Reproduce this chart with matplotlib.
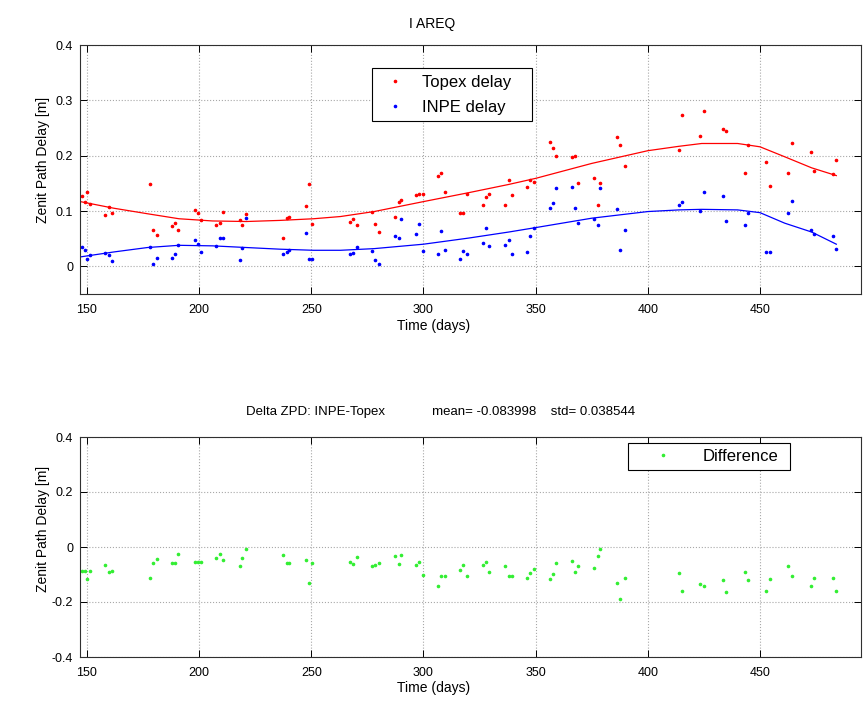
import matplotlib
matplotlib.use("Agg")
import matplotlib.pyplot as plt
import numpy as np

plt.rcParams['font.family'] = ['Liberation Sans', 'DejaVu Sans']

# ---- data ----
days = [148, 149, 150, 151.5, 158, 159.7, 161, 178, 179.5, 181.2, 188, 189.4, 190.6,
        198, 199.5, 201, 207.7, 209.2, 210.7, 218, 219.2, 220.7, 237.5, 239, 240.2,
        247.5, 249, 250.5, 267.4, 268.5, 270.2, 277, 278.5, 280, 287.1, 288.9, 289.9,
        296.7, 298.2, 299.7, 306.5, 308, 309.6, 316.3, 317.8, 319.6, 326.4, 327.9, 329.4,
        336.4, 338, 339.5, 346, 347.5, 349.3, 356.4, 357.6, 358.9, 366, 367.5, 369,
        376, 377.6, 378.8, 386.3, 387.8, 389.6, 413.8, 415.3, 423.4, 424.9, 433.4, 434.9,
        443.2, 444.7, 452.8, 454.4, 462.6, 464.3, 472.6, 473.9, 482.5, 484]

topex = [0.127, 0.117, 0.134, 0.113, 0.092, 0.108, 0.096, 0.149, 0.065, 0.057, 0.073, 0.078, 0.066,
         0.101, 0.096, 0.083, 0.075, 0.079, 0.099, 0.083, 0.074, 0.095, 0.052, 0.087, 0.089,
         0.109, 0.148, 0.077, 0.080, 0.086, 0.074, 0.099, 0.077, 0.062, 0.090, 0.117, 0.119,
         0.129, 0.131, 0.131, 0.164, 0.169, 0.135, 0.096, 0.096, 0.131, 0.110, 0.125, 0.131,
         0.110, 0.156, 0.129, 0.143, 0.156, 0.153, 0.224, 0.214, 0.199, 0.197, 0.200, 0.150,
         0.160, 0.111, 0.150, 0.233, 0.220, 0.181, 0.210, 0.274, 0.235, 0.281, 0.248, 0.245,
         0.169, 0.219, 0.188, 0.145, 0.169, 0.223, 0.206, 0.172, 0.166, 0.192]

inpe = [0.035, 0.030, 0.013, 0.020, 0.024, 0.020, 0.010, 0.035, 0.005, 0.015, 0.015, 0.022, 0.039,
        0.047, 0.040, 0.026, 0.036, 0.051, 0.052, 0.012, 0.034, 0.088, 0.022, 0.026, 0.029,
        0.061, 0.014, 0.014, 0.023, 0.024, 0.035, 0.028, 0.012, 0.004, 0.055, 0.051, 0.086,
        0.058, 0.076, 0.028, 0.022, 0.063, 0.029, 0.013, 0.028, 0.022, 0.043, 0.069, 0.037,
        0.039, 0.048, 0.022, 0.026, 0.055, 0.070, 0.105, 0.114, 0.141, 0.143, 0.105, 0.078,
        0.085, 0.075, 0.142, 0.104, 0.029, 0.066, 0.110, 0.117, 0.100, 0.135, 0.128, 0.082,
        0.075, 0.097, 0.025, 0.025, 0.096, 0.118, 0.066, 0.058, 0.054, 0.031]

difference = [-0.088, -0.088, -0.117, -0.088, -0.065, -0.090, -0.086, -0.112, -0.059, -0.044, -0.059, -0.057, -0.026,
              -0.055, -0.055, -0.055, -0.039, -0.026, -0.047, -0.069, -0.041, -0.007, -0.028, -0.059, -0.059,
              -0.047, -0.132, -0.059, -0.055, -0.062, -0.036, -0.070, -0.065, -0.059, -0.034, -0.062, -0.029,
              -0.067, -0.055, -0.100, -0.140, -0.107, -0.107, -0.083, -0.067, -0.107, -0.065, -0.055, -0.091,
              -0.069, -0.107, -0.107, -0.114, -0.096, -0.080, -0.117, -0.098, -0.057, -0.052, -0.091, -0.069,
              -0.078, -0.034, -0.007, -0.130, -0.189, -0.114, -0.096, -0.159, -0.135, -0.143, -0.121, -0.163,
              -0.091, -0.119, -0.161, -0.117, -0.070, -0.104, -0.140, -0.112, -0.112, -0.161]

# fitted curves
fit_days = [147, 162, 177, 191, 206, 221, 236, 251, 263, 278, 300, 320, 338, 350, 375,
            400, 414, 424, 440, 450, 461, 473, 484]
topex_fit = [0.117, 0.105, 0.095, 0.086, 0.082, 0.081, 0.083, 0.086, 0.090, 0.099, 0.117,
             0.133, 0.148, 0.159, 0.186, 0.209, 0.217, 0.222, 0.222, 0.216, 0.198, 0.178, 0.164]
inpe_fit = [0.017, 0.026, 0.034, 0.038, 0.037, 0.034, 0.031, 0.029, 0.029, 0.032, 0.040,
            0.051, 0.062, 0.070, 0.087, 0.099, 0.102, 0.103, 0.102, 0.097, 0.078, 0.062, 0.040]

xlim = (146.9, 495.0)
xticks = [150, 200, 250, 300, 350, 400, 450]
top_yticks = [0, 0.1, 0.2, 0.3, 0.4]
top_yticklabels = ['0', '0.1', '0.2', '0.3', '0.4']
bot_yticks = [-0.4, -0.2, 0, 0.2, 0.4]
bot_yticklabels = ['-0.4', '-0.2', '0', '0.2', '0.4']

FS_TICK = 9
FS_LAB = 10
FS_TITLE2 = 9.5
FS_LEG = 12

fig = plt.figure(figsize=(8.64, 7.04), dpi=100)
W, H = 864, 704
L, R = 80, 861
ax1 = fig.add_axes([L / W, 1 - 294 / H, (R - L) / W, 249 / H])
ax2 = fig.add_axes([L / W, 1 - 657 / H, (R - L) / W, 220 / H])


def style(ax, ylab_y, xlab_y):
    ax.set_xlim(*xlim)
    ax.set_xticks(xticks)
    ax.tick_params(direction='in', top=True, right=True, length=5, width=0.7,
                   labelsize=FS_TICK)
    ax.tick_params(axis='x', pad=7)
    ax.tick_params(axis='y', pad=5)
    ax.grid(True, linestyle=':', color='#a8a8a8', linewidth=0.8)
    for s in ax.spines.values():
        s.set_linewidth(0.8)
        s.set_color('#303030')
    ax.set_xlabel('Time (days)', fontsize=FS_LAB)
    ax.xaxis.set_label_coords(0.453, xlab_y)
    ax.set_ylabel('Zenit Path Delay [m]', fontsize=FS_LAB)
    ax.yaxis.set_label_coords(-0.039, ylab_y)


# ---- top panel ----
ax1.plot(days, topex, '.', color='red', markersize=3.2, label='Topex delay')
ax1.plot(days, inpe, '.', color='blue', markersize=3.2, label='INPE delay')
ax1.plot(fit_days, topex_fit, '-', color='red', linewidth=0.9)
ax1.plot(fit_days, inpe_fit, '-', color='blue', linewidth=0.9)
ax1.set_ylim(-0.05, 0.4)
ax1.set_yticks(top_yticks)
ax1.set_yticklabels(top_yticklabels)
style(ax1, 0.54, -0.1)
ax1.set_title('I AREQ', fontsize=FS_LAB, x=0.451, pad=12)
leg1 = ax1.legend(loc='upper left', bbox_to_anchor=(372 / W, 1 - 68 / H, 160 / W, 0.0),
                  mode='expand',
                  bbox_transform=fig.transFigure, fontsize=FS_LEG, frameon=True,
                  fancybox=False, edgecolor='black', framealpha=1, handlelength=2.0,
                  handletextpad=0.6, borderpad=0.4, labelspacing=0.6, borderaxespad=0)
leg1.get_frame().set_linewidth(0.8)

# ---- bottom panel ----
ax2.plot(days, difference, '.', color='#33ee33', markersize=3.2, label='Difference')
ax2.set_ylim(-0.4, 0.4)
ax2.set_yticks(bot_yticks)
ax2.set_yticklabels(bot_yticklabels)
style(ax2, 0.58, -0.11)
ax2.set_title('Delta ZPD: INPE-Topex' + ' ' * 13 + 'mean= -0.083998' + ' ' * 4 + 'std= 0.038544',
              fontsize=FS_TITLE2, x=0.462, pad=16)
leg2 = ax2.legend(loc='upper left', bbox_to_anchor=(628 / W, 1 - 443 / H, 162 / W, 0.0),
                  mode='expand',
                  bbox_transform=fig.transFigure, fontsize=FS_LEG, frameon=True,
                  fancybox=False, edgecolor='black', framealpha=1, handlelength=3.5,
                  handletextpad=0.6, borderpad=0.35, borderaxespad=0)
leg2.get_frame().set_linewidth(0.8)

fig.savefig('out.png', dpi=100)
